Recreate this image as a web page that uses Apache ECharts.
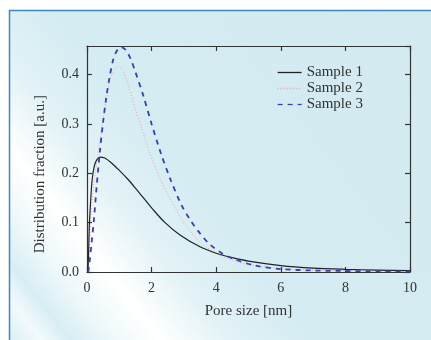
<!DOCTYPE html>
<html><head><meta charset="utf-8">
<script src="https://cdn.jsdelivr.net/npm/echarts@6/dist/echarts.min.js"></script>
<style>html,body{margin:0;padding:0;background:#fff}#c{width:431px;height:340px}</style>
</head><body><div id="c"></div>
<script>
const seriesNames = ['Sample 1', 'Sample 2', 'Sample 3'];
const xTicks = [0, 2, 4, 6, 8, 10];
const yTicks = [0.0, 0.1, 0.2, 0.3, 0.4];

const s1x = [0.03, 0.05, 0.07, 0.1, 0.16, 0.25, 0.4, 0.55, 0.76, 1.0, 1.28, 1.5, 1.8, 2.0, 2.4, 2.88, 3.5, 4.0, 4.5, 5.0, 6.0, 7.0, 8.0, 9.0, 10.0];
const s1y = [0, 0.04, 0.09, 0.13, 0.187, 0.22, 0.233, 0.231, 0.221, 0.206, 0.187, 0.17, 0.146, 0.13, 0.101, 0.075, 0.051, 0.038, 0.029, 0.022, 0.013, 0.008, 0.0055, 0.0038, 0.0026];

const s2x = [0.04, 0.1, 0.2, 0.35, 0.5, 0.7, 0.85, 0.97, 1.1, 1.28, 1.5, 1.7, 2.0, 2.26, 2.6, 2.88, 3.2, 3.5, 4.0, 4.5, 5.0, 6.0, 7.0, 8.0, 10.0];
const s2y = [0, 0.08, 0.17, 0.245, 0.31, 0.385, 0.41, 0.418, 0.41, 0.378, 0.33, 0.29, 0.232, 0.19, 0.145, 0.112, 0.082, 0.06, 0.038, 0.024, 0.015, 0.007, 0.004, 0.0025, 0.001];

const s3x = [0.04, 0.08, 0.14, 0.22, 0.3, 0.4, 0.5, 0.6, 0.7, 0.81, 0.92, 1.05, 1.2, 1.35, 1.5, 1.74, 2.0, 2.3, 2.6, 2.93, 3.2, 3.5, 3.8, 4.2, 4.6, 5.2, 6.0, 7.0, 8.0, 9.0, 10.0];
const s3y = [0, 0.02, 0.058, 0.11, 0.175, 0.245, 0.305, 0.355, 0.395, 0.43, 0.448, 0.456, 0.45, 0.432, 0.405, 0.358, 0.3, 0.238, 0.185, 0.135, 0.105, 0.078, 0.056, 0.037, 0.025, 0.013, 0.006, 0.003, 0.002, 0.0013, 0.001];

const pair = (xs, ys) => xs.map((x, i) => [x, ys[i]]);
const FONT = 'Liberation Serif';
const chart = echarts.init(document.getElementById('c'), null, {renderer: 'canvas'});

const baseAxis = {
  axisLine: {onZero: false, lineStyle: {color: '#333', width: 1.2}},
  axisTick: {inside: true, length: 5, lineStyle: {color: '#333', width: 1.2}},
  splitLine: {show: false},
  axisLabel: {fontFamily: FONT, fontSize: 14, color: '#333'}
};

chart.setOption({
  animation: false,
  backgroundColor: '#ffffff',
  graphic: [
    {type: 'rect', z: -10, silent: true,
     shape: {x: 9.5, y: 10.5, width: 430, height: 340},
     style: {
       fill: new echarts.graphic.LinearGradient(0, 1, 1, 0, [
         {offset: 0, color: '#d6edf3'},
         {offset: 0.06, color: '#f2fafc'},
         {offset: 0.1, color: '#d8eef4'},
         {offset: 0.16, color: '#eef8fa'},
         {offset: 0.23, color: '#ffffff'},
         {offset: 0.33, color: '#e2f2f6'},
         {offset: 0.45, color: '#d4ecf2'},
         {offset: 1, color: '#d2eaf0'}
       ]),
       stroke: '#3f86c8', lineWidth: 1.5
     }},
    {type: 'text', z: 10, left: 33, top: 95, rotation: Math.PI / 2,
     style: {text: 'Distribution fraction [a.u.]', fontFamily: FONT, fontSize: 15, fill: '#333'}}
  ],
  grid: {left: 87, right: 21, top: 46, bottom: 68, containLabel: false},
  legend: {
    orient: 'vertical', left: 272, top: 60, itemGap: 1, itemWidth: 24, itemHeight: 14,
    itemStyle: {opacity: 0},
    lineStyle: {width: 1.3},
    textStyle: {fontFamily: FONT, fontSize: 15, color: '#333'},
    data: seriesNames
  },
  xAxis: [
    Object.assign({}, baseAxis, {type: 'value', min: xTicks[0], max: xTicks[xTicks.length - 1], interval: 2,
      name: 'Pore size [nm]', nameLocation: 'middle', nameGap: 32,
      nameTextStyle: {fontFamily: FONT, fontSize: 15, color: '#333'},
      axisLabel: Object.assign({}, baseAxis.axisLabel, {margin: 9})}),
    Object.assign({}, baseAxis, {type: 'value', position: 'top', min: 0, max: 10, interval: 2,
      axisLabel: {show: false}})
  ],
  yAxis: [
    Object.assign({}, baseAxis, {type: 'value', min: yTicks[0], max: 0.458, interval: 0.1,
      axisLabel: Object.assign({}, baseAxis.axisLabel, {margin: 8, showMaxLabel: false,
        formatter: v => yTicks.some(t => Math.abs(t - v) < 1e-9) ? v.toFixed(1) : ''})}),
    Object.assign({}, baseAxis, {type: 'value', position: 'right', min: 0, max: 0.458, interval: 0.1,
      axisLabel: {show: false}})
  ],
  series: [
    {name: seriesNames[0], type: 'line', data: pair(s1x, s1y), smooth: 0.3, symbol: 'none',
     lineStyle: {color: '#222', width: 1.2}, itemStyle: {color: '#222'}, z: 3},
    {name: seriesNames[1], type: 'line', data: pair(s2x, s2y), smooth: 0.3, symbol: 'none',
     lineStyle: {color: '#eba0aa', width: 1, type: [1, 2]}, itemStyle: {color: '#eba0aa'}, z: 2},
    {name: seriesNames[2], type: 'line', data: pair(s3x, s3y), smooth: 0.3, symbol: 'none',
     lineStyle: {color: '#3840b0', width: 1.8, type: [5, 5]}, itemStyle: {color: '#3840b0'}, z: 4}
  ]
});
</script></body></html>
